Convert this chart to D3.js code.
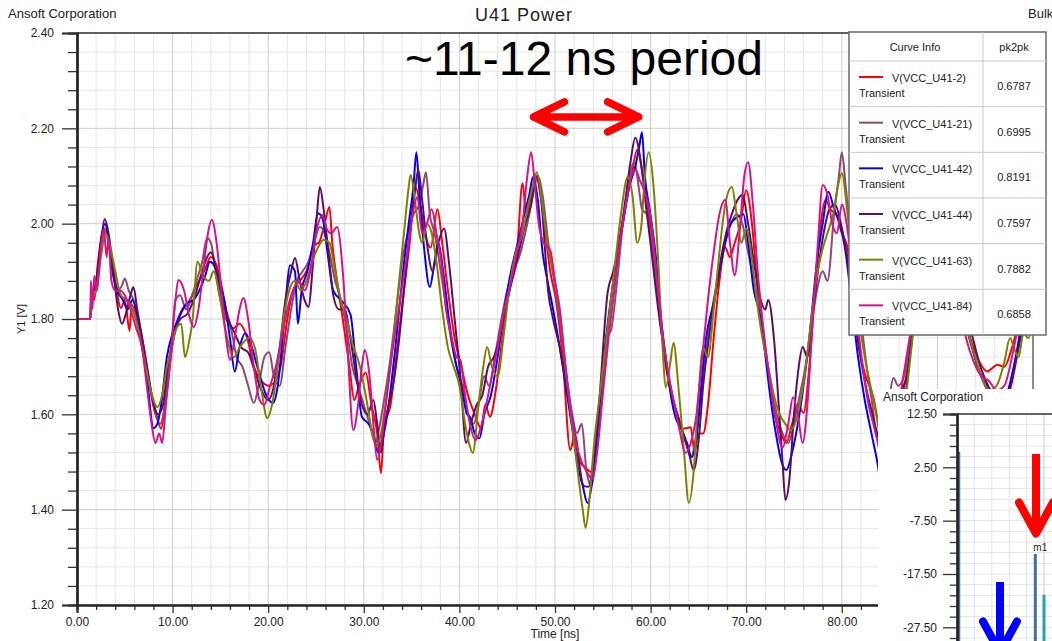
<!DOCTYPE html>
<html>
<head>
<meta charset="utf-8">
<script src="https://cdn.jsdelivr.net/npm/d3@7"></script>
<style>
  html, body { margin: 0; padding: 0; background: #ffffff; }
  svg { display: block; font-family: "Liberation Sans", Arial, Helvetica, sans-serif; }
</style>
</head>
<body>
<svg id="chart" width="1052" height="641"></svg>
<script>
// ---------------------------------------------------------------
// Transient supply voltage at the U41 power pins, [time ns, volts]
// ---------------------------------------------------------------
const vU41_2 = [[0,1.80],[1.4,1.80],[1.5,1.86],[1.8,1.84],[2.2,1.92],[2.8,1.99],[3.2,1.97],[3.6,1.93],[4.0,1.88],[4.6,1.823],[5.0,1.84],[5.5,1.775],[5.7,1.83],[6.3,1.80],[7.0,1.72],[7.6,1.66],[8.2,1.61],[8.8,1.57],[9.2,1.62],[9.8,1.72],[10.4,1.79],[11.0,1.82],[11.8,1.84],[12.5,1.87],[13.3,1.90],[14.0,1.93],[14.8,1.90],[15.6,1.82],[16.3,1.78],[17.0,1.79],[17.8,1.76],[18.5,1.70],[19.3,1.67],[20.0,1.66],[20.6,1.666],[21.3,1.70],[22.0,1.80],[22.6,1.86],[23.3,1.88],[24.0,1.90],[24.8,1.955],[25.3,1.96],[25.9,2.00],[26.4,2.035],[26.7,1.96],[27.2,1.88],[27.8,1.80],[28.5,1.70],[29.0,1.63],[29.5,1.66],[30.2,1.687],[30.8,1.62],[31.4,1.56],[31.8,1.4763],[32.1,1.57],[32.8,1.62],[33.5,1.74],[34.2,1.86],[34.8,1.96],[35.4,2.077],[35.9,2.04],[36.4,1.98],[37.0,1.95],[37.7,2.03],[38.2,1.96],[38.8,1.86],[39.5,1.76],[40.2,1.70],[40.9,1.64],[41.6,1.60],[42.3,1.57],[42.7,1.62],[43.2,1.595],[43.8,1.65],[44.5,1.76],[45.2,1.86],[46.0,1.93],[46.6,2.085],[47.0,2.02],[47.5,2.06],[48.0,2.10],[48.5,2.06],[49.0,1.98],[49.5,1.90],[50.1,1.84],[50.8,1.72],[51.6,1.525],[52.1,1.56],[52.6,1.50],[53.1,1.49],[53.7,1.48],[54.2,1.52],[54.7,1.62],[55.3,1.74],[56.0,1.86],[56.7,1.96],[57.4,2.04],[58.0,2.10],[58.6,2.155],[59.2,2.10],[59.8,2.02],[60.4,1.92],[61.0,1.80],[61.6,1.70],[62.2,1.64],[62.8,1.60],[63.4,1.57],[64.2,1.573],[64.6,1.52],[65.0,1.56],[65.5,1.56],[66.0,1.62],[66.6,1.76],[67.2,1.88],[67.8,1.95],[68.3,1.93],[68.8,1.96],[69.4,2.00],[70.0,2.07],[70.6,2.00],[71.2,1.86],[71.8,1.76],[72.4,1.68],[73.0,1.60],[73.6,1.56],[74.2,1.54],[74.8,1.58],[75.4,1.62],[76.0,1.603],[76.6,1.70],[77.2,1.86],[77.8,2.00],[78.3,2.05],[78.8,2.03],[79.4,2.02],[80.0,1.98],[80.6,1.95],[81.2,1.85],[81.8,1.74],[82.5,1.68],[83.3,1.636],[84.0,1.56],[84.8,1.50],[85.6,1.55],[86.4,1.64],[87.2,1.74],[88.0,1.86],[88.8,1.96],[89.6,2.03],[90.4,2.05],[91.2,1.98],[92.0,1.88],[92.8,1.80],[93.6,1.75],[94.4,1.71],[95.2,1.69],[96.3,1.704],[97.0,1.70],[97.8,1.74],[98.6,1.80],[99.4,1.86],[100,1.90]];

const vU41_21 = [[0,1.80],[1.4,1.80],[1.5,1.85],[2.0,1.87],[2.5,1.95],[2.9,1.99],[3.3,1.96],[3.8,1.90],[4.3,1.86],[4.7,1.87],[5.0,1.885],[5.4,1.86],[5.9,1.84],[6.4,1.80],[7.0,1.74],[7.6,1.66],[8.2,1.60],[8.7,1.58],[9.2,1.62],[9.8,1.72],[10.3,1.84],[10.8,1.85],[11.4,1.82],[11.9,1.84],[12.5,1.88],[13.1,1.92],[13.6,1.97],[14.0,1.96],[14.5,1.90],[15.0,1.84],[15.6,1.80],[16.1,1.78],[16.7,1.72],[17.3,1.70],[17.9,1.66],[18.5,1.624],[19.0,1.66],[19.6,1.72],[20.1,1.73],[20.6,1.68],[21.2,1.66],[21.8,1.74],[22.4,1.82],[23.0,1.88],[23.6,1.90],[24.2,1.92],[24.8,1.96],[25.4,1.993],[25.9,1.98],[26.4,1.94],[27.0,1.88],[27.6,1.84],[28.2,1.78],[28.8,1.70],[29.4,1.66],[30.0,1.62],[30.6,1.58],[31.2,1.54],[31.6,1.57],[32.2,1.64],[32.8,1.72],[33.4,1.82],[34.0,1.92],[34.6,1.98],[35.2,2.02],[35.8,2.04],[36.2,2.08],[36.5,2.108],[36.9,2.02],[37.4,1.98],[37.9,1.92],[38.5,1.84],[39.1,1.76],[39.7,1.70],[40.3,1.66],[40.9,1.60],[41.5,1.58],[42.0,1.62],[42.6,1.68],[43.1,1.66],[43.7,1.72],[44.4,1.80],[45.0,1.86],[45.7,1.90],[46.4,1.94],[47.1,2.00],[47.7,2.06],[48.2,2.10],[48.7,2.06],[49.3,1.96],[49.9,1.88],[50.6,1.78],[51.2,1.68],[51.8,1.60],[52.3,1.56],[52.8,1.58],[53.3,1.48],[53.8,1.4505],[54.3,1.52],[54.9,1.64],[55.5,1.76],[55.9,1.78],[56.5,1.88],[57.1,2.00],[57.7,2.09],[58.3,2.13],[58.8,2.07],[59.1,2.03],[59.6,2.02],[60.1,1.96],[60.7,1.86],[61.3,1.76],[61.9,1.68],[62.5,1.62],[63.1,1.58],[63.7,1.54],[64.2,1.51],[64.8,1.56],[65.4,1.66],[66.0,1.76],[66.6,1.84],[67.2,1.90],[67.8,1.96],[68.4,2.00],[69.0,2.02],[69.6,2.00],[70.2,1.94],[70.8,1.88],[71.4,1.82],[72.0,1.74],[72.6,1.66],[73.2,1.60],[73.8,1.56],[74.4,1.54],[75.0,1.58],[75.6,1.64],[76.2,1.70],[76.8,1.78],[77.4,1.86],[78.0,1.90],[78.5,1.88],[79.2,2.02],[79.7,2.10],[80.0,2.15],[80.4,2.08],[80.9,1.98],[81.4,1.90],[82.0,1.80],[82.6,1.70],[83.2,1.62],[83.7,1.553],[84.4,1.56],[85.0,1.64],[85.4,1.676],[85.9,1.66],[86.5,1.68],[87.2,1.76],[88.0,1.88],[88.8,1.98],[89.6,2.04],[90.4,2.03],[91.2,1.96],[92.0,1.88],[92.8,1.80],[93.6,1.74],[94.4,1.69],[95.2,1.66],[96.0,1.64],[96.6,1.62],[97.4,1.65],[98.2,1.72],[99.0,1.81],[100,1.88]];

const vU41_42 = [[0,1.80],[1.4,1.80],[1.5,1.85],[2.0,1.87],[2.5,1.96],[2.9,2.00],[3.3,1.97],[3.7,1.90],[4.2,1.86],[4.8,1.84],[5.3,1.82],[5.8,1.84],[6.3,1.81],[6.9,1.74],[7.4,1.66],[8.0,1.571],[8.4,1.58],[8.8,1.62],[9.4,1.72],[10.0,1.77],[10.6,1.80],[11.5,1.833],[12.2,1.84],[12.8,1.86],[13.4,1.89],[13.9,1.92],[14.4,1.91],[14.9,1.88],[15.4,1.84],[16.0,1.76],[16.5,1.69],[17.0,1.74],[17.6,1.77],[18.3,1.74],[19.0,1.69],[19.8,1.64],[20.5,1.624],[21.0,1.66],[21.6,1.78],[22.3,1.913],[22.8,1.90],[23.1,1.79],[23.5,1.86],[24.1,1.90],[24.7,1.96],[25.2,2.022],[25.7,2.01],[26.2,1.94],[26.8,1.86],[27.6,1.84],[28.6,1.81],[29.2,1.70],[29.8,1.595],[30.5,1.58],[31.0,1.56],[31.5,1.52],[32.0,1.55],[32.6,1.62],[33.3,1.74],[34.0,1.88],[34.7,2.00],[35.2,2.08],[35.5,2.15],[35.8,2.07],[36.3,1.95],[36.9,1.867],[37.4,1.92],[37.8,1.96],[38.3,1.90],[38.9,1.80],[39.5,1.72],[40.2,1.66],[40.8,1.60],[41.1,1.595],[41.6,1.56],[42.1,1.55],[42.6,1.60],[43.3,1.64],[44.0,1.72],[44.7,1.82],[45.4,1.90],[46.1,1.96],[46.8,2.02],[47.3,2.06],[47.7,2.098],[48.2,2.05],[48.7,1.94],[49.2,1.882],[49.8,1.82],[50.5,1.74],[51.2,1.65],[51.8,1.57],[52.4,1.49],[52.9,1.45],[53.4,1.414],[53.9,1.46],[54.4,1.56],[55.0,1.70],[55.7,1.82],[56.4,1.92],[57.1,2.00],[57.8,2.08],[58.4,2.12],[58.8,2.16],[59.1,2.192],[59.4,2.10],[59.9,2.03],[60.5,1.94],[61.1,1.80],[61.7,1.70],[62.2,1.63],[62.6,1.594],[63.2,1.57],[63.8,1.54],[64.3,1.51],[64.8,1.55],[65.3,1.66],[65.8,1.76],[66.6,1.834],[67.2,1.90],[67.8,1.96],[68.4,2.00],[69.1,2.014],[69.7,2.02],[70.2,1.96],[70.8,1.86],[71.3,1.82],[71.9,1.74],[72.5,1.64],[73.1,1.56],[73.7,1.50],[74.2,1.483],[74.8,1.52],[75.4,1.58],[76.0,1.66],[76.7,1.78],[77.4,1.92],[78.0,2.00],[78.6,2.067],[79.2,2.03],[79.8,2.00],[80.4,1.94],[81.0,1.84],[81.7,1.72],[82.4,1.63],[83.1,1.56],[83.8,1.49],[84.3,1.42],[84.9,1.3729],[85.5,1.42],[86.2,1.54],[87.0,1.70],[87.8,1.84],[88.6,1.96],[89.4,2.03],[90.2,2.05],[91.0,1.98],[91.8,1.90],[92.6,1.82],[93.4,1.76],[94.2,1.70],[95.0,1.66],[95.8,1.63],[96.6,1.62],[97.4,1.65],[98.2,1.72],[99.0,1.81],[100,1.89]];

const vU41_44 = [[0,1.80],[1.4,1.80],[1.5,1.84],[2.0,1.88],[2.5,1.96],[2.9,2.01],[3.3,1.98],[3.8,1.90],[4.3,1.82],[4.7,1.79],[5.1,1.81],[5.6,1.85],[5.9,1.867],[6.3,1.82],[6.9,1.75],[7.5,1.68],[8.0,1.62],[8.5,1.60],[9.0,1.62],[9.5,1.70],[10.2,1.77],[10.8,1.80],[11.5,1.81],[12.2,1.84],[12.8,1.88],[13.4,1.92],[14.0,1.94],[14.6,1.90],[15.2,1.84],[15.8,1.80],[16.5,1.77],[17.2,1.74],[17.9,1.73],[18.6,1.69],[19.3,1.65],[20.0,1.63],[20.6,1.66],[21.2,1.74],[21.8,1.84],[22.4,1.90],[22.8,1.928],[23.3,1.88],[23.8,1.84],[24.2,1.825],[24.7,1.92],[25.1,2.02],[25.4,2.077],[25.8,2.03],[26.3,1.94],[26.8,1.85],[27.4,1.82],[28.0,1.82],[28.6,1.76],[29.2,1.68],[29.8,1.62],[30.4,1.60],[31.0,1.63],[31.4,1.58],[31.8,1.52],[32.2,1.58],[32.6,1.62],[33.1,1.666],[33.6,1.74],[34.2,1.86],[34.8,1.98],[35.3,2.06],[35.7,2.113],[36.1,2.05],[36.6,1.96],[37.2,1.90],[37.8,1.96],[38.4,1.99],[38.9,1.92],[39.5,1.80],[40.1,1.68],[40.7,1.54],[41.2,1.58],[41.8,1.62],[42.4,1.64],[43.0,1.70],[43.6,1.72],[44.2,1.76],[44.8,1.82],[45.5,1.88],[46.2,1.94],[46.9,2.00],[47.5,2.04],[48.0,2.10],[48.6,2.04],[49.3,1.855],[49.8,1.80],[50.5,1.74],[51.2,1.66],[51.9,1.58],[52.5,1.50],[53.0,1.45],[53.5,1.448],[54.0,1.50],[54.6,1.62],[55.5,1.855],[56.1,1.90],[56.7,1.96],[57.3,2.04],[57.9,2.13],[58.4,2.18],[58.9,2.14],[59.5,2.04],[60.1,1.94],[60.8,1.82],[61.5,1.72],[62.2,1.64],[62.8,1.60],[63.4,1.56],[64.0,1.52],[64.5,1.483],[65.0,1.54],[65.5,1.66],[66.1,1.76],[66.7,1.84],[67.3,1.92],[67.9,1.98],[68.5,2.02],[69.1,2.05],[69.6,2.06],[70.2,2.00],[70.8,1.92],[71.4,1.85],[72.0,1.82],[72.3,1.84],[72.9,1.76],[73.4,1.62],[73.8,1.50],[74.1,1.4203],[74.5,1.46],[75.0,1.60],[75.5,1.70],[75.9,1.741],[76.4,1.72],[76.9,1.80],[77.5,1.90],[78.1,1.98],[78.7,2.03],[79.3,2.04],[79.9,2.00],[80.5,1.94],[81.1,1.84],[81.8,1.74],[82.5,1.66],[83.2,1.60],[84.0,1.54],[84.8,1.50],[85.6,1.56],[86.3,1.65],[86.8,1.68],[87.4,1.77],[88.1,1.88],[88.9,1.98],[89.7,2.05],[90.5,2.06],[91.3,1.99],[92.1,1.90],[92.9,1.82],[93.7,1.76],[94.5,1.70],[95.3,1.66],[96.1,1.63],[96.9,1.62],[97.7,1.66],[98.5,1.74],[99.3,1.82],[100,1.88]];

const vU41_63 = [[0,1.80],[1.4,1.80],[1.5,1.84],[2.0,1.86],[2.5,1.93],[3.0,1.98],[3.5,1.95],[4.0,1.90],[4.6,1.85],[5.2,1.84],[5.8,1.82],[6.4,1.78],[7.0,1.72],[7.6,1.66],[8.0,1.63],[8.4,1.615],[8.9,1.64],[9.4,1.70],[9.9,1.74],[10.4,1.78],[10.9,1.79],[11.3,1.72],[11.7,1.75],[12.1,1.80],[12.6,1.92],[13.2,1.89],[13.8,1.88],[14.3,1.90],[14.9,1.85],[15.5,1.78],[16.4,1.72],[17.0,1.74],[18.0,1.76],[18.6,1.74],[19.3,1.65],[19.9,1.592],[20.4,1.62],[21.0,1.70],[21.6,1.80],[22.2,1.86],[22.8,1.88],[23.4,1.86],[24.0,1.88],[24.6,1.92],[25.2,1.95],[25.8,1.966],[26.4,1.96],[27.0,1.90],[27.6,1.84],[28.2,1.80],[28.8,1.75],[29.6,1.70],[30.2,1.64],[30.8,1.57],[31.3,1.532],[31.8,1.56],[32.4,1.64],[33.0,1.74],[33.6,1.86],[34.2,1.98],[34.6,2.06],[34.9,2.102],[35.4,2.04],[35.8,1.98],[36.1,1.96],[36.6,2.00],[37.1,1.98],[37.6,1.92],[38.2,1.82],[38.8,1.74],[39.4,1.70],[40.0,1.66],[40.6,1.58],[41.0,1.54],[41.4,1.519],[42.0,1.62],[42.5,1.70],[42.9,1.741],[43.4,1.70],[44.0,1.68],[44.6,1.76],[45.2,1.86],[45.9,1.94],[46.6,1.98],[47.2,2.04],[47.7,2.08],[48.1,2.108],[48.6,2.05],[49.2,1.96],[49.8,1.90],[50.6,1.80],[51.2,1.68],[51.9,1.56],[52.5,1.46],[52.9,1.40],[53.2,1.3618],[53.6,1.42],[54.1,1.54],[54.8,1.66],[55.5,1.78],[56.2,1.90],[56.9,2.02],[57.6,2.098],[58.1,2.06],[58.6,1.96],[59.0,1.99],[59.4,2.10],[59.8,2.150],[60.3,2.08],[60.8,1.92],[61.2,1.76],[61.6,1.657],[62.0,1.70],[62.4,1.75],[62.9,1.66],[63.5,1.52],[64.0,1.414],[64.5,1.48],[65.0,1.64],[65.5,1.74],[66.0,1.72],[66.6,1.82],[67.2,1.94],[67.8,2.04],[68.5,2.077],[69.0,2.02],[69.5,1.96],[70.0,1.99],[70.5,1.94],[71.1,1.84],[71.7,1.76],[72.3,1.70],[72.9,1.64],[73.5,1.60],[74.1,1.58],[74.6,1.567],[75.1,1.58],[75.6,1.62],[76.1,1.68],[76.7,1.78],[77.3,1.88],[77.9,1.94],[78.5,1.98],[79.1,2.02],[79.6,2.08],[80.0,2.106],[80.6,2.02],[81.2,1.90],[81.8,1.80],[82.4,1.72],[83.0,1.66],[83.6,1.60],[84.3,1.52],[85.0,1.47],[85.8,1.52],[86.6,1.62],[87.4,1.76],[88.2,1.90],[89.0,2.00],[89.8,2.06],[90.6,2.02],[91.4,1.94],[92.2,1.86],[93.0,1.79],[93.8,1.73],[94.6,1.68],[95.4,1.65],[96.2,1.66],[97.0,1.71],[97.6,1.76],[98.0,1.74],[98.5,1.72],[99.0,1.77],[99.5,1.76],[100,1.80]];

const vU41_84 = [[0,1.80],[1.4,1.80],[1.45,1.88],[1.6,1.82],[1.8,1.89],[2.1,1.86],[2.5,1.95],[2.8,1.987],[3.1,1.93],[3.3,1.97],[3.6,1.88],[4.0,1.86],[4.5,1.86],[5.0,1.85],[5.6,1.82],[6.2,1.78],[6.8,1.74],[7.3,1.66],[7.8,1.58],[8.2,1.54],[8.6,1.56],[8.9,1.54],[9.3,1.62],[9.8,1.72],[10.3,1.84],[10.6,1.882],[11.2,1.86],[11.7,1.81],[12.2,1.783],[12.7,1.82],[13.2,1.90],[13.7,1.98],[14.1,2.008],[14.6,1.96],[15.1,1.86],[15.6,1.76],[16.0,1.714],[16.5,1.76],[17.0,1.82],[17.4,1.844],[17.9,1.80],[18.5,1.70],[19.1,1.63],[19.6,1.62],[20.2,1.66],[20.8,1.70],[21.4,1.76],[22.0,1.82],[22.6,1.86],[23.2,1.88],[23.8,1.86],[24.4,1.90],[25.0,1.98],[25.7,2.018],[26.1,1.99],[26.6,1.98],[27.2,1.993],[27.8,1.90],[28.3,1.74],[28.9,1.567],[29.4,1.62],[29.8,1.70],[30.1,1.735],[30.6,1.68],[31.0,1.58],[31.4,1.504],[31.8,1.54],[32.3,1.62],[32.9,1.72],[33.5,1.80],[34.1,1.88],[34.7,1.96],[35.2,2.03],[35.6,2.056],[36.1,1.98],[36.6,2.00],[37.1,2.03],[37.6,1.98],[38.1,1.92],[38.6,1.82],[39.2,1.76],[39.7,1.72],[40.1,1.714],[40.6,1.64],[41.1,1.58],[41.7,1.546],[42.2,1.57],[42.8,1.62],[43.4,1.68],[44.0,1.74],[44.7,1.82],[45.4,1.88],[46.0,1.94],[46.6,2.00],[47.1,2.10],[47.5,2.15],[47.9,2.08],[48.3,2.00],[48.8,1.96],[49.5,1.945],[50.0,1.88],[50.5,1.82],[51.0,1.72],[51.6,1.62],[52.2,1.54],[52.8,1.50],[53.3,1.48],[53.9,1.4642],[54.4,1.52],[55.0,1.64],[55.6,1.76],[56.2,1.86],[56.8,1.96],[57.4,2.04],[58.0,2.10],[58.4,2.113],[58.9,2.09],[59.5,2.06],[60.1,2.00],[60.7,1.88],[61.3,1.76],[61.9,1.68],[62.5,1.62],[63.1,1.56],[63.6,1.519],[64.2,1.54],[64.8,1.60],[65.4,1.72],[66.0,1.84],[66.6,1.94],[67.2,2.02],[67.8,2.05],[68.3,1.96],[68.8,1.892],[69.3,1.98],[69.8,2.10],[70.2,2.129],[70.7,2.04],[71.2,1.90],[71.8,1.78],[72.4,1.68],[73.0,1.60],[73.8,1.53],[74.4,1.58],[74.9,1.636],[75.4,1.60],[75.9,1.54],[76.4,1.62],[76.9,1.78],[77.5,1.96],[78.0,2.081],[78.5,2.06],[79.0,2.00],[79.5,1.98],[80.0,2.04],[80.5,2.00],[81.0,1.92],[81.6,1.80],[82.2,1.70],[82.8,1.62],[83.3,1.58],[83.7,1.546],[84.3,1.50],[85.0,1.52],[85.8,1.60],[86.6,1.70],[87.4,1.80],[88.2,1.92],[89.0,2.00],[89.8,2.04],[90.6,2.00],[91.4,1.92],[92.2,1.84],[93.0,1.76],[93.8,1.71],[94.6,1.68],[95.4,1.67],[96.2,1.65],[97.0,1.66],[97.8,1.72],[98.6,1.80],[99.4,1.86],[100,1.90]];

const seriesNames = ["V(VCC_U41-2)", "V(VCC_U41-21)", "V(VCC_U41-42)", "V(VCC_U41-44)", "V(VCC_U41-63)", "V(VCC_U41-84)"];
const seriesValues = [vU41_2, vU41_21, vU41_42, vU41_44, vU41_63, vU41_84];
const pk2pk = [0.6787, 0.6995, 0.8191, 0.7597, 0.7882, 0.6858];

// axis ticks
const xMajorTicks = [0, 10, 20, 30, 40, 50, 60, 70, 80, 90, 100];
const xLabelTicks = [0, 10, 20, 30, 40, 50, 60, 70, 80];
const yMajorTicks = [1.2, 1.4, 1.6, 1.8, 2.0, 2.2, 2.4];

// annotation of the ringing period (data units)
const periodArrow = { from: 47.75, to: 58.75, level: 2.224 };
const periodNote = { text: "~11-12 ns period", t: 34.3, v: 2.312 };

// small spectrum window in the lower right
const insetBarPos = [0.1, 4.5, 5.0];
const insetBarVal = [5.4, -13.75, -21.4];
const insetBarLabel = ["", "m1", ""];
const insetYTicks = [12.5, 2.5, -7.5, -17.5, -27.5];
const insetArrows = [
  { pos: 4.54, top: 5.0, tip: -9.9, color: "#ff0000" },
  { pos: 2.47, top: -19.0, tip: -32.2, color: "#0000ff" }
];

// ---------------------------------------------------------------
const seriesColors = ["#ff0000", "#8c4a72", "#0000ff", "#5c0f5f", "#808000", "#d4148c"];

const svg = d3.select("#chart");
const W = 1052, H = 641;
const plot = { left: 77, right: 1033, top: 33, bottom: 605 };

const x = d3.scaleLinear().domain([0, 100]).range([plot.left, plot.right]);
const y = d3.scaleLinear().domain([1.2, 2.4]).range([plot.bottom, plot.top]);

svg.append("rect").attr("width", W).attr("height", H).attr("fill", "#fff");

// grid
const xMinor = d3.range(0, 101, 2).filter(d => d % 10 !== 0);
const yMinor = d3.range(0, 31).map(i => +(1.2 + i * 0.04).toFixed(2)).filter(d => !yMajorTicks.some(m => Math.abs(m - d) < 1e-6));
const grid = svg.append("g");
grid.selectAll(".gxm").data(xMinor).join("line")
  .attr("x1", d => x(d)).attr("x2", d => x(d)).attr("y1", plot.top).attr("y2", plot.bottom)
  .attr("stroke", "#e6e6e6").attr("stroke-width", 1);
grid.selectAll(".gym").data(yMinor).join("line")
  .attr("y1", d => y(d)).attr("y2", d => y(d)).attr("x1", plot.left).attr("x2", plot.right)
  .attr("stroke", "#e6e6e6").attr("stroke-width", 1);
grid.selectAll(".gxM").data(xMajorTicks).join("line")
  .attr("x1", d => x(d)).attr("x2", d => x(d)).attr("y1", plot.top).attr("y2", plot.bottom)
  .attr("stroke", "#cdcdcd").attr("stroke-width", 1);
grid.selectAll(".gyM").data(yMajorTicks).join("line")
  .attr("y1", d => y(d)).attr("y2", d => y(d)).attr("x1", plot.left).attr("x2", plot.right)
  .attr("stroke", "#cdcdcd").attr("stroke-width", 1);

// curves
svg.append("clipPath").attr("id", "plotClip").append("rect")
  .attr("x", plot.left).attr("y", plot.top)
  .attr("width", plot.right - plot.left).attr("height", plot.bottom - plot.top);

const line = d3.line().x(d => x(d[0])).y(d => y(d[1])).curve(d3.curveMonotoneX);
svg.append("g").attr("clip-path", "url(#plotClip)")
  .selectAll("path").data(seriesValues).join("path")
  .attr("d", line)
  .attr("fill", "none")
  .attr("stroke", (d, i) => seriesColors[i])
  .attr("stroke-width", 2)
  .attr("stroke-linejoin", "round");

// frame
svg.append("line").attr("x1", plot.left).attr("x2", plot.right).attr("y1", plot.top).attr("y2", plot.top)
  .attr("stroke", "#333").attr("stroke-width", 1.5);
svg.append("line").attr("x1", plot.right).attr("x2", plot.right).attr("y1", plot.top).attr("y2", plot.bottom)
  .attr("stroke", "#333").attr("stroke-width", 1);

// axes (plain hyphen-minus, two decimals)
const fmt = d => d.toFixed(2);
const yAxisMinor = svg.append("g").attr("transform", `translate(${plot.left},0)`)
  .call(d3.axisLeft(y).tickValues(yMinor).tickSize(9).tickFormat(""));
const yAxis = svg.append("g").attr("transform", `translate(${plot.left},0)`)
  .call(d3.axisLeft(y).tickValues(yMajorTicks).tickSize(15).tickPadding(8).tickFormat(fmt));
const xAxisMinor = svg.append("g").attr("transform", `translate(0,${plot.bottom})`)
  .call(d3.axisBottom(x).tickValues(xMinor).tickSize(5).tickFormat(""));
const xAxis = svg.append("g").attr("transform", `translate(0,${plot.bottom})`)
  .call(d3.axisBottom(x).tickValues(xLabelTicks).tickSize(8).tickPadding(4).tickFormat(fmt));

[yAxisMinor, yAxis, xAxisMinor, xAxis].forEach(g => {
  g.selectAll(".tick line").attr("stroke", "#333").attr("stroke-width", 1.3);
  g.select(".domain").attr("stroke", "#222").attr("stroke-width", 2.2);
  g.selectAll("text").attr("fill", "#222").attr("font-size", 12)
    .attr("font-family", "'Liberation Sans', Arial, sans-serif");
});

// titles and labels
svg.append("text").attr("x", 8).attr("y", 18).attr("font-size", 13).attr("fill", "#222").text("Ansoft Corporation");
svg.append("text").attr("x", 524).attr("y", 21).attr("text-anchor", "middle").attr("font-size", 18)
  .attr("letter-spacing", 1).attr("fill", "#222").text("U41 Power");
svg.append("text").attr("x", 1028).attr("y", 18).attr("font-size", 13).attr("fill", "#222").text("Bulk");
svg.append("text").attr("x", (plot.left + plot.right) / 2).attr("y", 638).attr("text-anchor", "middle")
  .attr("font-size", 12).attr("fill", "#222").text("Time [ns]");
svg.append("text").attr("transform", `translate(25,${y(1.8)}) rotate(-90)`).attr("text-anchor", "middle")
  .attr("font-size", 11).attr("fill", "#222").text("Y1 [V]");

// period annotation
svg.append("text").attr("x", x(periodNote.t)).attr("y", y(periodNote.v))
  .attr("font-size", 48).attr("fill", "#000").text(periodNote.text);
{
  const x0 = x(periodArrow.from), x1 = x(periodArrow.to), yv = y(periodArrow.level);
  const hx = 31, hy = 15;
  svg.append("path")
    .attr("d", `M${x0},${yv}L${x1},${yv}M${x0 + hx},${yv - hy}L${x0},${yv}L${x0 + hx},${yv + hy}M${x1 - hx},${yv - hy}L${x1},${yv}L${x1 - hx},${yv + hy}`)
    .attr("fill", "none").attr("stroke", "#ff0000").attr("stroke-width", 7.5)
    .attr("stroke-linecap", "round").attr("stroke-linejoin", "round");
}

// legend table
{
  const lg = svg.append("g");
  const L = 849, T = 32, R = 1046, B = 335, colX = 983, headB = 61;
  const rowH = (B - headB) / seriesNames.length;
  lg.append("rect").attr("x", L).attr("y", T).attr("width", R - L).attr("height", B - T)
    .attr("fill", "#fff").attr("stroke", "#6a6a6a").attr("stroke-width", 1.5);
  lg.append("line").attr("x1", colX).attr("x2", colX).attr("y1", T).attr("y2", B).attr("stroke", "#c8c8c8");
  lg.selectAll(".rl").data(d3.range(seriesNames.length)).join("line")
    .attr("x1", L).attr("x2", R)
    .attr("y1", i => headB + i * rowH).attr("y2", i => headB + i * rowH)
    .attr("stroke", "#c8c8c8");
  lg.append("text").attr("x", 915).attr("y", 51).attr("text-anchor", "middle").attr("font-size", 11).attr("fill", "#222").text("Curve Info");
  lg.append("text").attr("x", 1014).attr("y", 51).attr("text-anchor", "middle").attr("font-size", 11).attr("fill", "#222").text("pk2pk");
  const rows = lg.selectAll(".row").data(seriesNames).join("g")
    .attr("transform", (d, i) => `translate(0,${headB + i * rowH})`);
  rows.append("line").attr("x1", 859).attr("x2", 883).attr("y1", 16).attr("y2", 16)
    .attr("stroke", (d, i) => seriesColors[i]).attr("stroke-width", 2);
  rows.append("text").attr("x", 892).attr("y", 21).attr("font-size", 11).attr("fill", "#222").text(d => d);
  rows.append("text").attr("x", 859).attr("y", 36).attr("font-size", 11).attr("fill", "#222").text("Transient");
  rows.append("text").attr("x", 1014).attr("y", 29).attr("text-anchor", "middle").attr("font-size", 11)
    .attr("fill", "#222").text((d, i) => pk2pk[i].toFixed(4));
}

// inset spectrum window
{
  const ig = svg.append("g");
  const iL = 878, iT = 389;
  const xi = d3.scaleLinear().domain([0, 10]).range([957, 1131]);
  const yi = d3.scaleLinear().domain([-32.5, 12.5]).range([654, 414]);
  ig.append("rect").attr("x", iL).attr("y", iT).attr("width", W - iL).attr("height", H - iT).attr("fill", "#fff");
  ig.append("text").attr("x", 883).attr("y", 401).attr("font-size", 12).attr("fill", "#222").text("Ansoft Corporation");

  const hMinor = d3.range(12.5, -33, -2);
  ig.selectAll(".ihg").data(hMinor).join("line")
    .attr("x1", xi(0)).attr("x2", W).attr("y1", d => yi(d)).attr("y2", d => yi(d))
    .attr("stroke", "#e4e4e4");
  ig.selectAll(".ivg").data([1, 2, 3, 4, 5, 6]).join("line")
    .attr("x1", d => xi(d)).attr("x2", d => xi(d)).attr("y1", yi(12.5)).attr("y2", H)
    .attr("stroke", d => d === 5 ? "#cdcdcd" : "#e4e4e4");

  ig.selectAll(".ibar").data(insetBarVal).join("rect")
    .attr("x", (d, i) => xi(insetBarPos[i]) - 1.5).attr("width", 3)
    .attr("y", d => yi(d)).attr("height", d => yi(-32.5) - yi(d))
    .attr("fill", (d, i) => i === 2 ? "#1fa3b8" : "#46709f");
  ig.selectAll(".ibl").data(insetBarVal).join("text")
    .attr("x", (d, i) => xi(insetBarPos[i]) - 2).attr("y", d => yi(d) - 3)
    .attr("font-size", 10).attr("fill", "#222").text((d, i) => insetBarLabel[i]);

  const yiMinor = d3.range(12.5, -33, -2).filter(d => !insetYTicks.includes(d));
  const ayMinor = ig.append("g").attr("transform", `translate(${xi(0)},0)`)
    .call(d3.axisLeft(yi).tickValues(yiMinor).tickSize(7).tickFormat(""));
  const ay = ig.append("g").attr("transform", `translate(${xi(0)},0)`)
    .call(d3.axisLeft(yi).tickValues(insetYTicks).tickSize(14).tickPadding(6).tickFormat(fmt));
  [ayMinor, ay].forEach(g => {
    g.selectAll(".tick line").attr("stroke", "#333").attr("stroke-width", 1.3);
    g.select(".domain").attr("stroke", "#222").attr("stroke-width", 2.2);
    g.selectAll("text").attr("fill", "#222").attr("font-size", 12)
      .attr("font-family", "'Liberation Sans', Arial, sans-serif");
  });
  ig.append("line").attr("x1", xi(0)).attr("x2", W).attr("y1", yi(12.5)).attr("y2", yi(12.5))
    .attr("stroke", "#333").attr("stroke-width", 1.5);

  insetArrows.forEach(a => {
    const ax = xi(a.pos), y0 = yi(a.top), yt = yi(a.tip);
    ig.append("line").attr("x1", ax).attr("x2", ax).attr("y1", y0).attr("y2", yt - 4)
      .attr("stroke", a.color).attr("stroke-width", 8);
    ig.append("path").attr("d", `M${ax - 17},${yt - 31}L${ax},${yt}L${ax + 17},${yt - 31}`)
      .attr("fill", "none").attr("stroke", a.color).attr("stroke-width", 8)
      .attr("stroke-linecap", "round").attr("stroke-linejoin", "round");
  });
}
</script>
</body>
</html>
